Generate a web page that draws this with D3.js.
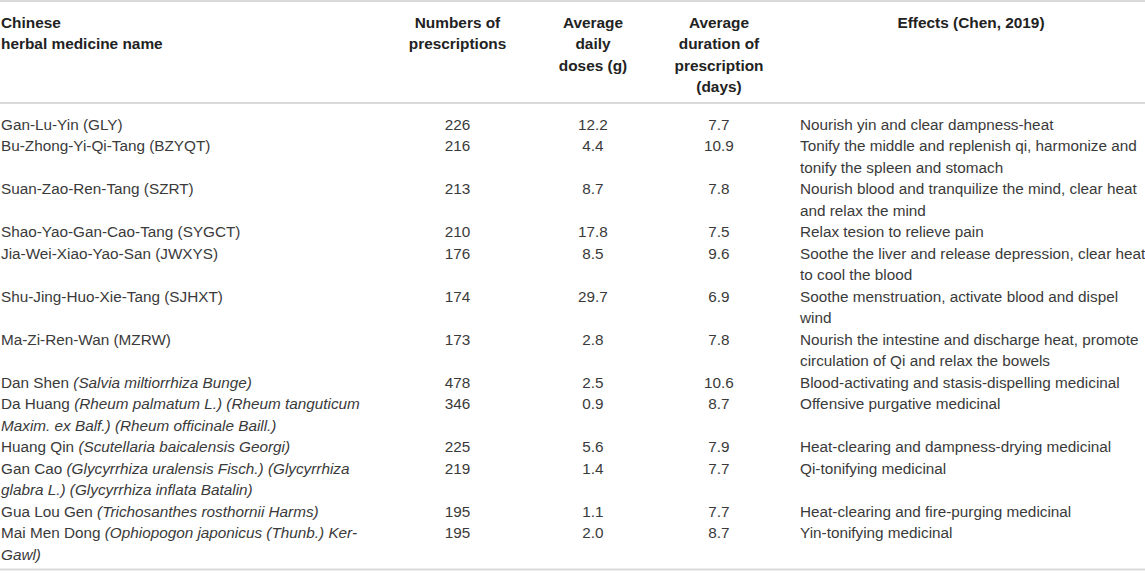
<!DOCTYPE html>
<html>
<head>
<meta charset="utf-8">
<script src="https://cdn.jsdelivr.net/npm/d3@7"></script>
<style>
  body { margin: 0; background: #fff; }
  svg { display: block; font-family: "Liberation Sans", Arial, Helvetica, sans-serif; }
  .head { font-weight: bold; fill: #222; font-size: 15.4px; }
  .cell { fill: #3a3a3a; font-size: 15.3px; }
</style>
</head>
<body>
<script>
// table data
const names = ["Gan-Lu-Yin (GLY)", "Bu-Zhong-Yi-Qi-Tang (BZYQT)", "Suan-Zao-Ren-Tang (SZRT)",
  "Shao-Yao-Gan-Cao-Tang (SYGCT)", "Jia-Wei-Xiao-Yao-San (JWXYS)", "Shu-Jing-Huo-Xie-Tang (SJHXT)",
  "Ma-Zi-Ren-Wan (MZRW)", "Dan Shen", "Da Huang", "Huang Qin", "Gan Cao", "Gua Lou Gen", "Mai Men Dong"];
const latin = ["", "", "", "", "", "", "",
  "(Salvia miltiorrhiza Bunge)",
  "(Rheum palmatum L.) (Rheum tanguticum\nMaxim. ex Balf.) (Rheum officinale Baill.)",
  "(Scutellaria baicalensis Georgi)",
  "(Glycyrrhiza uralensis Fisch.) (Glycyrrhiza\nglabra L.) (Glycyrrhiza inflata Batalin)",
  "(Trichosanthes rosthornii Harms)",
  "(Ophiopogon japonicus (Thunb.) Ker-\nGawl)"];
const prescriptions = [226, 216, 213, 210, 176, 174, 173, 478, 346, 225, 219, 195, 195];
const doses = [12.2, 4.4, 8.7, 17.8, 8.5, 29.7, 2.8, 2.5, 0.9, 5.6, 1.4, 1.1, 2.0];
const durations = [7.7, 10.9, 7.8, 7.5, 9.6, 6.9, 7.8, 10.6, 8.7, 7.9, 7.7, 7.7, 8.7];
const effects = ["Nourish yin and clear dampness-heat",
  "Tonify the middle and replenish qi, harmonize and\ntonify the spleen and stomach",
  "Nourish blood and tranquilize the mind, clear heat\nand relax the mind",
  "Relax tesion to relieve pain",
  "Soothe the liver and release depression, clear heat\nto cool the blood",
  "Soothe menstruation, activate blood and dispel\nwind",
  "Nourish the intestine and discharge heat, promote\ncirculation of Qi and relax the bowels",
  "Blood-activating and stasis-dispelling medicinal",
  "Offensive purgative medicinal",
  "Heat-clearing and dampness-drying medicinal",
  "Qi-tonifying medicinal",
  "Heat-clearing and fire-purging medicinal",
  "Yin-tonifying medicinal"];
const headers = ["Chinese\nherbal medicine name", "Numbers of\nprescriptions", "Average\ndaily\ndoses (g)",
  "Average\nduration of\nprescription\n(days)", "Effects (Chen, 2019)"];

const W = 1145, H = 573;
const svg = d3.select("body").append("svg").attr("width", W).attr("height", H);

// column anchors
const colX = [1, 457.5, 593, 719, 800];
const headX = [1, 457.5, 593, 719, 971];
const headAnchor = ["start", "middle", "middle", "middle", "middle"];

// line index -> baseline
const lh = 21.5;
const headY = d3.scaleLinear().domain([0, 1]).range([27.5, 27.5 + lh]);
const bodyY = d3.scaleLinear().domain([0, 1]).range([129.5, 129.5 + lh]);

// rules
const rules = [1, 103, 569.5];
svg.selectAll(".rule").data(rules).join("line")
  .attr("class", "rule")
  .attr("x1", 0).attr("x2", W)
  .attr("y1", d => d).attr("y2", d => d)
  .attr("stroke", "#d9d9d9").attr("stroke-width", 2);

// header
svg.selectAll(".head").data(headers).join("text")
  .attr("class", "head")
  .attr("text-anchor", (d, i) => headAnchor[i])
  .each(function(d, i) {
    d3.select(this).selectAll("tspan").data(d.split("\n")).join("tspan")
      .attr("x", headX[i]).attr("y", (t, j) => headY(j)).text(t => t);
  });

// build rows with starting line index
const fmt = d3.format(".1f");
let line = 0;
const rows = names.map((n, i) => {
  const lat = latin[i] ? latin[i].split("\n") : [];
  const nameLines = [[{t: n, it: false}]];
  if (lat.length) {
    nameLines[0].push({t: " " + lat[0], it: true});
    lat.slice(1).forEach(l => nameLines.push([{t: l, it: true}]));
  }
  const eff = effects[i].split("\n");
  const r = {start: line, nameLines, eff, n: prescriptions[i], d: doses[i], dur: durations[i]};
  line += Math.max(nameLines.length, eff.length);
  return r;
});

const g = svg.selectAll(".row").data(rows).join("g").attr("class", "row");

// name column
g.append("text").attr("class", "cell")
  .each(function(r) {
    const t = d3.select(this);
    r.nameLines.forEach((segs, j) => {
      segs.forEach((s, k) => {
        const sp = t.append("tspan").text(s.t)
          .style("font-style", s.it ? "italic" : "normal");
        if (k === 0) sp.attr("x", colX[0]).attr("y", bodyY(r.start + j));
      });
    });
  });

// numeric columns
[["n", 1, d3.format("d")], ["d", 2, fmt], ["dur", 3, fmt]].forEach(([key, c, f]) => {
  g.append("text").attr("class", "cell")
    .attr("text-anchor", "middle")
    .attr("x", colX[c])
    .attr("y", r => bodyY(r.start))
    .text(r => f(r[key]));
});

// effects column
g.append("text").attr("class", "cell")
  .each(function(r) {
    d3.select(this).selectAll("tspan").data(r.eff).join("tspan")
      .attr("x", colX[4]).attr("y", (t, j) => bodyY(r.start + j)).text(t => t);
  });
</script>
</body>
</html>
